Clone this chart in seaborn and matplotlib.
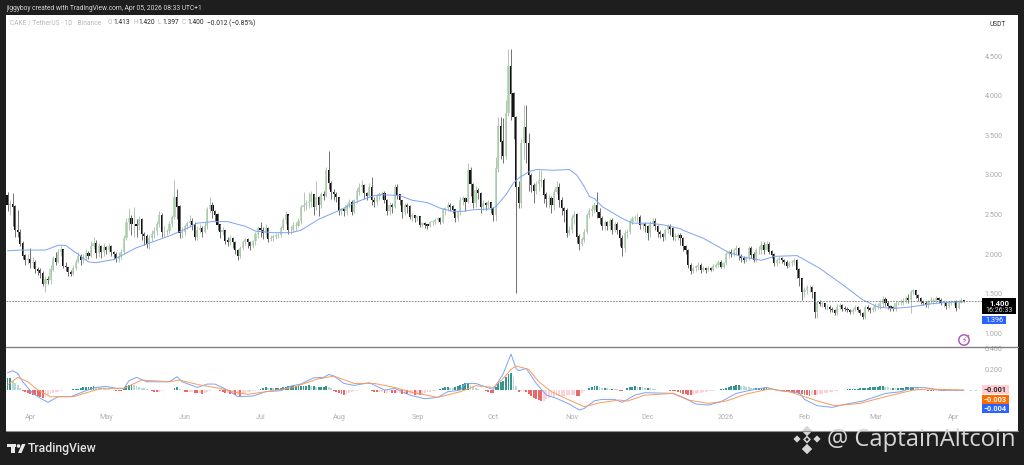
import numpy as np
import pandas as pd
import matplotlib.pyplot as plt
from matplotlib.patches import Rectangle, Circle, Polygon
import seaborn as sns

# daily candles, 23 Mar 2025 -> 5 Apr 2026
first_open = 2.74
close = [
    2.62,2.63,2.60,2.30,2.28,2.13,1.98,1.92,1.93,1.88,
    1.90,1.81,1.79,1.76,1.62,1.68,1.67,1.80,1.94,1.90,
    2.02,2.06,1.85,1.83,1.77,1.75,1.82,1.90,1.97,1.92,
    1.95,2.01,1.98,2.10,2.14,2.01,2.10,2.02,2.09,2.05,
    2.10,2.02,2.00,1.94,1.97,2.02,2.20,2.40,2.45,2.38,
    2.38,2.36,2.44,2.25,2.23,2.13,2.20,2.25,2.29,2.38,
    2.49,2.28,2.28,2.29,2.38,2.47,2.72,2.60,2.26,2.28,
    2.35,2.39,2.42,2.37,2.22,2.30,2.33,2.28,2.35,2.57,
    2.62,2.54,2.50,2.37,2.28,2.30,2.17,2.15,2.20,2.15,
    2.05,1.98,2.07,2.15,2.18,2.15,2.10,2.16,2.25,2.32,
    2.30,2.27,2.33,2.19,2.20,2.22,2.24,2.24,2.33,2.43,
    2.50,2.30,2.30,2.36,2.36,2.42,2.59,2.62,2.64,2.66,
    2.75,2.60,2.72,2.62,2.75,2.73,3.06,2.90,2.78,2.76,
    2.72,2.55,2.56,2.54,2.62,2.66,2.53,2.68,2.79,2.85,
    2.87,2.77,2.73,2.85,2.68,2.66,2.73,2.75,2.77,2.68,
    2.55,2.62,2.60,2.85,2.75,2.68,2.53,2.62,2.60,2.47,
    2.49,2.45,2.48,2.37,2.39,2.37,2.35,2.40,2.41,2.43,
    2.45,2.41,2.56,2.58,2.62,2.60,2.56,2.45,2.53,2.68,
    2.70,2.66,3.06,2.88,2.64,2.81,2.77,2.60,2.64,2.62,
    2.65,2.58,2.49,3.08,3.61,3.42,3.24,3.78,4.37,4.03,
    3.73,2.85,2.64,3.40,3.60,3.40,3.00,2.87,2.80,2.88,
    2.93,2.93,2.75,2.70,2.70,2.62,2.78,2.85,2.68,2.58,
    2.55,2.27,2.30,2.45,2.50,2.22,2.13,2.18,2.28,2.49,
    2.54,2.56,2.62,2.53,2.45,2.35,2.40,2.35,2.43,2.30,
    2.37,2.30,2.20,2.07,2.26,2.28,2.41,2.45,2.47,2.47,
    2.37,2.37,2.35,2.26,2.39,2.41,2.35,2.28,2.25,2.22,
    2.30,2.35,2.32,2.22,2.22,2.24,2.20,2.10,2.05,1.86,
    1.78,1.82,1.84,1.86,1.80,1.82,1.80,1.82,1.80,1.84,
    1.86,1.90,1.84,1.88,2.00,2.02,2.00,2.05,2.07,1.97,
    1.95,1.92,1.95,2.07,1.99,1.93,2.05,2.05,2.11,2.05,
    2.12,2.03,1.99,1.88,1.92,1.95,1.92,1.90,1.85,1.88,
    1.90,1.92,1.80,1.69,1.52,1.54,1.58,1.58,1.52,1.27,
    1.39,1.37,1.37,1.33,1.33,1.30,1.29,1.25,1.33,1.35,
    1.31,1.30,1.29,1.26,1.29,1.32,1.29,1.25,1.20,1.33,
    1.31,1.29,1.31,1.34,1.34,1.37,1.43,1.38,1.34,1.32,
    1.30,1.38,1.38,1.38,1.40,1.44,1.42,1.52,1.54,1.48,
    1.44,1.40,1.38,1.35,1.40,1.41,1.41,1.44,1.42,1.38,
    1.38,1.34,1.38,1.39,1.40,1.32,1.38,1.413,1.40]
high = [
    2.78,2.68,2.77,2.62,2.56,2.32,2.16,2.00,2.00,2.07,
    1.96,1.92,1.84,1.82,1.79,1.72,1.72,1.86,1.97,2.02,
    2.06,2.10,2.06,1.90,1.84,1.80,1.86,1.94,2.02,2.00,
    2.00,2.06,2.04,2.16,2.22,2.18,2.14,2.12,2.14,2.10,
    2.14,2.12,2.04,2.02,2.02,2.06,2.24,2.46,2.58,2.50,
    2.60,2.44,2.48,2.46,2.28,2.25,2.24,2.30,2.34,2.42,
    2.54,2.52,2.36,2.32,2.42,2.50,2.94,2.82,2.62,2.34,
    2.38,2.42,2.50,2.46,2.40,2.36,2.38,2.36,2.40,2.60,
    2.72,2.66,2.56,2.52,2.38,2.34,2.30,2.22,2.24,2.22,
    2.16,2.06,2.10,2.18,2.20,2.20,2.16,2.18,2.28,2.36,
    2.40,2.34,2.38,2.34,2.24,2.25,2.27,2.27,2.36,2.46,
    2.54,2.50,2.36,2.40,2.40,2.46,2.62,2.78,2.68,2.78,
    2.80,2.76,2.93,2.74,2.78,2.80,3.10,3.30,2.92,2.82,
    2.78,2.72,2.58,2.58,2.64,2.70,2.68,2.70,2.84,2.90,
    2.94,2.88,2.78,2.90,2.98,2.72,2.76,2.78,2.80,2.80,
    2.70,2.66,2.64,2.88,2.88,2.76,2.68,2.65,2.64,2.62,
    2.52,2.50,2.50,2.48,2.41,2.40,2.38,2.42,2.43,2.45,
    2.47,2.47,2.58,2.60,2.66,2.64,2.62,2.57,2.55,2.72,
    2.74,2.72,3.15,3.10,2.90,2.86,2.84,2.78,2.68,2.66,
    2.68,2.66,2.60,3.23,3.74,3.74,3.72,3.95,4.60,4.60,
    4.05,3.75,2.92,3.45,3.89,3.89,3.53,3.02,2.90,2.93,
    3.06,3.06,2.96,2.78,2.76,2.74,2.82,2.92,2.90,2.72,
    2.60,2.58,2.36,2.50,2.55,2.52,2.25,2.22,2.32,2.52,
    2.58,2.62,2.66,2.79,2.58,2.48,2.43,2.42,2.46,2.45,
    2.40,2.40,2.32,2.24,2.30,2.32,2.44,2.48,2.50,2.52,
    2.50,2.41,2.40,2.37,2.42,2.45,2.45,2.37,2.30,2.27,
    2.33,2.38,2.38,2.34,2.26,2.27,2.27,2.22,2.12,2.06,
    1.88,1.85,1.86,1.90,1.88,1.85,1.84,1.85,1.84,1.87,
    1.89,1.92,1.92,1.90,2.02,2.05,2.06,2.08,2.11,2.09,
    2.00,1.98,1.98,2.10,2.10,2.02,2.08,2.10,2.17,2.15,
    2.17,2.15,2.05,2.01,1.95,1.98,1.96,1.94,1.92,1.91,
    1.92,1.95,1.94,1.82,1.70,1.58,1.61,1.61,1.60,1.52,
    1.40,1.42,1.40,1.38,1.37,1.35,1.33,1.31,1.37,1.38,
    1.37,1.34,1.33,1.31,1.32,1.36,1.34,1.31,1.27,1.36,
    1.36,1.33,1.34,1.38,1.38,1.42,1.47,1.46,1.40,1.36,
    1.34,1.41,1.41,1.43,1.44,1.47,1.49,1.55,1.56,1.55,
    1.50,1.45,1.42,1.40,1.42,1.45,1.44,1.47,1.46,1.44,
    1.42,1.40,1.41,1.42,1.42,1.42,1.42,1.44,1.42]
low = [
    2.55,2.50,2.35,2.22,2.22,2.10,1.94,1.86,1.87,1.82,
    1.82,1.76,1.74,1.70,1.60,1.52,1.62,1.62,1.78,1.86,
    1.88,1.98,1.82,1.78,1.72,1.72,1.74,1.80,1.88,1.86,
    1.88,1.93,1.94,1.96,2.06,1.95,1.96,1.95,1.98,2.00,
    2.02,1.98,1.94,1.90,1.90,1.94,2.00,2.18,2.30,2.24,
    2.22,2.22,2.30,2.18,2.12,2.08,2.06,2.16,2.20,2.24,
    2.34,2.22,2.22,2.24,2.26,2.34,2.44,2.44,2.20,2.20,
    2.24,2.32,2.34,2.30,2.18,2.18,2.26,2.22,2.26,2.32,
    2.52,2.46,2.42,2.30,2.20,2.24,2.13,2.10,2.12,2.08,
    2.00,1.93,1.95,2.05,2.12,2.08,2.05,2.08,2.12,2.20,
    2.22,2.19,2.22,2.15,2.16,2.17,2.19,2.20,2.22,2.30,
    2.38,2.25,2.25,2.28,2.30,2.34,2.38,2.55,2.56,2.58,
    2.60,2.50,2.56,2.48,2.58,2.68,2.72,2.82,2.70,2.68,
    2.66,2.50,2.50,2.48,2.50,2.58,2.50,2.52,2.64,2.75,
    2.78,2.70,2.68,2.72,2.62,2.60,2.62,2.68,2.70,2.64,
    2.50,2.50,2.52,2.58,2.70,2.62,2.46,2.50,2.52,2.44,
    2.42,2.40,2.42,2.34,2.34,2.33,2.32,2.34,2.37,2.38,
    2.40,2.38,2.39,2.50,2.54,2.55,2.52,2.40,2.42,2.50,
    2.62,2.55,2.64,2.74,2.58,2.60,2.70,2.52,2.56,2.56,
    2.58,2.52,2.42,2.42,3.04,3.20,3.15,3.20,3.75,3.70,
    3.45,1.51,2.58,2.58,3.20,3.15,2.80,2.78,2.64,2.76,
    2.80,2.85,2.65,2.60,2.58,2.52,2.56,2.76,2.60,2.50,
    2.40,2.22,2.24,2.26,2.38,2.14,2.05,2.10,2.15,2.25,
    2.46,2.48,2.52,2.45,2.38,2.30,2.30,2.30,2.30,2.25,
    2.28,2.25,2.10,1.97,2.02,2.20,2.25,2.38,2.42,2.40,
    2.32,2.30,2.28,2.18,2.22,2.36,2.30,2.22,2.20,2.16,
    2.18,2.26,2.24,2.18,2.16,2.18,2.12,2.04,2.00,1.82,
    1.75,1.76,1.78,1.80,1.76,1.78,1.76,1.78,1.78,1.79,
    1.82,1.84,1.82,1.82,1.86,1.95,1.96,1.98,2.00,1.93,
    1.90,1.88,1.90,1.92,1.95,1.90,1.90,2.00,2.00,2.00,
    2.05,2.00,1.95,1.85,1.85,1.89,1.88,1.86,1.82,1.83,
    1.85,1.86,1.70,1.60,1.42,1.46,1.50,1.52,1.44,1.19,
    1.19,1.34,1.33,1.30,1.29,1.27,1.26,1.23,1.23,1.30,
    1.28,1.28,1.26,1.24,1.24,1.28,1.26,1.23,1.18,1.18,
    1.28,1.25,1.27,1.28,1.30,1.30,1.33,1.34,1.31,1.28,
    1.28,1.28,1.35,1.35,1.36,1.38,1.38,1.25,1.48,1.44,
    1.40,1.37,1.35,1.33,1.32,1.38,1.37,1.38,1.38,1.35,
    1.33,1.30,1.32,1.35,1.36,1.28,1.30,1.38,1.397]

# moving average, read at the bends
ma_day = [0,5,15,20,23,29,32,35,42,51,64,70,75,81,87,94,98,105,112,116,123,131,
          138,145,148,155,160,166,171,176,180,184,191,193,197,200,202,206,209,216,222,225,228,230,232,235,243,247,254,259,266,
          267,275,285,291,298,303,312,321,331,338,344,350,357,365,372,378]
ma_val = [2.04,2.05,2.05,2.11,2.11,1.97,1.90,1.89,1.93,2.08,2.23,2.31,2.39,2.41,2.41,2.35,2.29,2.27,2.27,2.30,2.44,2.55,
          2.66,2.74,2.75,2.74,2.68,2.65,2.58,2.54,2.54,2.56,2.57,2.60,2.75,2.90,2.96,3.04,3.07,3.06,3.07,3.00,2.85,2.73,2.70,2.60,2.45,2.39,2.39,2.37,2.32,
          2.30,2.20,2.02,1.96,1.92,1.97,1.98,1.82,1.59,1.42,1.33,1.31,1.33,1.37,1.39,1.396]

# macd pane
macd_day = [0,2,4,6,10,13,16,20,25,31,
            35,39,43,46,48,51,55,60,64,67,
            69,75,79,82,87,91,97,102,108,112,
            116,121,125,127,129,133,137,143,149,153,
            159,165,170,174,179,181,185,192,194,196,
            199,201,202,205,209,213,217,222,226,228,
            232,235,240,243,248,252,263,268,272,277,
            282,288,294,300,305,313,315,320,326,331,
            338,347,353,358,363,368,378]
macd_val = [.165,.184,.159,.079,-.032,-.079,-.117,-.063,-.063,-.006,
            .025,.035,.016,.016,.089,.121,.079,.079,.079,.127,
            .079,.025,.057,.057,0,-.063,-.057,-.016,-.006,.038,
            .057,.117,.121,.149,.133,.063,.044,.070,0,.016,
            -.048,-.083,-.070,-.016,0,.063,.063,.006,.079,.159,
            .343,.206,.184,.206,.063,-.048,-.079,-.133,-.190,-.175,
            -.102,-.089,-.089,-.117,-.048,-.025,-.032,-.079,-.133,-.143,
            -.111,-.032,0,.025,-.006,-.025,-.089,-.149,-.165,-.136,
            -.105,-.032,-.016,.025,.022,0,-.003]
signal_day = [0,4,8,12,17,26,37,46,53,59,
              64,68,76,84,89,95,102,113,122,129,
              137,145,153,160,170,179,185,192,196,199,
              201,206,210,215,222,228,234,242,245,252,
              263,269,277,284,292,301,309,315,321,327,
              337,347,358,364,378]
signal_val = [.048,.121,.079,0,-.063,-.063,.016,.016,.095,.086,
              .079,.095,.048,.016,-.016,-.041,-.016,.025,.102,.133,
              .063,.063,.025,-.022,-.070,-.016,.041,.025,.111,.197,
              .229,.197,.079,-.016,-.095,-.159,-.121,-.095,-.105,-.048,
              -.032,-.095,-.127,-.105,-.038,.010,-.016,-.063,-.111,-.149,
              -.127,-.063,0,.010,0]
hist = [
    .11,.11,.09,.07,.05,.02,-.005,-.02,-.03,-.04,
    -.045,-.05,-.06,-.07,-.08,-.065,-.05,-.04,-.03,-.02,
    -.015,-.005,.002,.005,.003,.004,.006,.01,.012,.02,
    .025,.03,.03,.032,.035,.03,.025,.02,.015,.01,
    .006,.003,-.003,-.005,-.008,-.01,.02,.035,.05,.052,
    .045,.035,.03,.02,.015,.01,.005,-.005,-.015,-.02,
    -.015,-.005,.002,.005,.003,.002,.02,.03,.01,-.002,
    -.015,-.02,-.02,-.02,-.025,-.03,-.03,-.035,-.03,-.015,
    -.005,-.003,.003,.002,-.01,-.02,-.03,-.03,-.04,-.04,
    -.05,-.05,-.055,-.03,-.025,-.02,-.015,-.01,-.005,.005,
    .01,.02,.025,.02,.02,.015,.015,.015,.02,.03,
    .03,.035,.035,.035,.04,.04,.04,.04,.04,.045,
    .035,.035,.03,.03,.03,.03,.035,.03,.02,-.01,
    -.02,-.03,-.04,-.05,-.05,-.03,-.02,-.01,-.005,.002,
    .003,.002,.003,.002,-.01,-.015,-.02,-.02,-.02,-.03,
    -.025,-.02,-.025,-.03,-.03,-.03,-.035,-.035,-.04,-.04,
    -.04,-.045,-.045,-.05,-.05,-.03,-.02,-.015,-.01,-.005,
    -.003,.01,.02,.03,.03,.02,.015,.03,.04,.05,
    .06,.065,.07,.05,.03,.02,.01,.005,.003,-.01,
    -.02,-.025,-.03,.03,.07,.08,.09,.12,.15,.16,
    .12,.04,-.02,-.01,-.005,-.02,-.04,-.06,-.08,-.09,
    -.095,-.1,-.1,-.09,-.08,-.07,-.07,-.06,-.06,-.06,
    -.055,-.05,-.05,-.05,-.05,-.055,-.06,-.03,-.01,-.003,
    .015,.03,.035,.035,.03,.02,.02,.015,.01,.012,
    .008,.006,-.005,-.012,.005,.015,.025,.03,.035,.03,
    .03,.025,.02,.02,.015,.012,.008,.005,.004,.003,
    .002,-.002,-.005,-.008,-.012,-.02,-.03,-.035,-.04,-.045,
    -.05,-.045,-.035,-.03,-.025,-.02,-.015,-.012,-.01,-.005,
    .003,.005,.008,.012,.02,.025,.035,.04,.045,.05,
    .04,.035,.03,.025,.02,.015,.015,.02,.02,.02,
    .02,.015,.005,.003,.002,-.005,-.01,-.012,-.015,-.018,
    -.02,-.025,-.03,-.035,-.04,-.045,-.05,-.055,-.045,-.05,
    -.045,-.04,-.035,-.03,-.025,-.02,-.015,-.01,-.005,-.002,
    .002,.005,.006,.008,.01,.012,.012,.015,.015,.02,
    .02,.025,.025,.03,.03,.035,.035,.03,.025,.02,
    .02,.015,.015,.015,.02,.025,.025,.03,.03,.02,
    .015,.01,.008,-.003,-.006,-.008,-.01,-.01,-.008,-.01,
    -.012,-.012,-.01,-.008,-.008,-.01,-.006,-.005,-.001]

price_ticks = [1.0,1.5,2.0,2.5,3.0,3.5,4.0,4.5]
macd_ticks = [0.2,0.4]
month_days = [9,39,70,100,131,162,192,223,253,284,315,343,374]
month_labels = ['Apr','May','Jun','Jul','Aug','Sep','Oct','Nov','Dec','2026','Feb','Mar','Apr']

sns.set_theme(style='white')
plt.rcParams['font.family'] = ['Roboto','DejaVu Sans']

W, H = 1024, 465
dark = '#1e1e1e'
fig = plt.figure(figsize=(W/100,H/100),dpi=100,facecolor=dark)
ax = fig.add_axes([6/W,(H-347)/H,1012/W,332/H])
ax2 = fig.add_axes([6/W,(H-431)/H,1012/W,84/H])

days = np.arange(len(close))
close_a = np.array(close)
open_a = np.r_[first_open,close_a[:-1]]
up = close_a >= open_a

# candles
ax.vlines(days[up],np.array(low)[up],np.array(high)[up],color='#b4c4b4',lw=0.7)
ax.vlines(days[~up],np.array(low)[~up],np.array(high)[~up],color='#707070',lw=0.7)
ax.bar(days,np.abs(close_a-open_a)+0.004,bottom=np.minimum(open_a,close_a),width=0.85,color=np.where(up,'#b4e0b4','#111111'),linewidth=0)
sns.lineplot(x=ma_day,y=ma_val,color='#7ba3f7',lw=0.7,ax=ax,errorbar=None)
ax.axhline(close[-1],xmax=(982-6)/1012,color='#777777',lw=0.6,ls=(0,(2,1.5)))
ax.set_xlim(-0.6,399.4)
ax.set_ylim(0.823,5.025)
ax.set_xticks([])
ax.set_yticks(price_ticks)
ax.set_yticklabels(['%.3f' % t for t in price_ticks])
ax.yaxis.tick_right()
ax.tick_params(axis='y',length=0,pad=-24,labelsize=5.2,labelcolor='#a8a8a8')

# macd histogram coloured by sign and direction
h = np.array(hist)
prev = np.r_[h[0],h[:-1]]
names = np.where(h>=0,np.where(h>=prev,'grow_up','fall_up'),np.where(h<prev,'grow_dn','fall_dn'))
hist_df = pd.DataFrame({'day':days,'hist':h,'kind':names})
sns.barplot(data=hist_df,x='day',y='hist',hue='kind',native_scale=True,dodge=False,width=0.75,legend=False,linewidth=0,
            palette={'grow_up':'#26a69a','fall_up':'#b2dfdb','grow_dn':'#ff5252','fall_dn':'#ffcdd2'},ax=ax2)
sns.lineplot(x=macd_day,y=macd_val,color='#7ba3f7',lw=0.7,ax=ax2,errorbar=None)
sns.lineplot(x=signal_day,y=signal_val,color='#fb9a5b',lw=0.7,ax=ax2,errorbar=None)
ax2.set_xlim(-0.6,399.4)
ax2.set_ylim(-0.39,0.41)
ax2.set_xticks(month_days)
ax2.set_xticklabels(month_labels)
ax2.set_xlabel('')
ax2.set_ylabel('')
ax2.set_yticks(macd_ticks)
ax2.set_yticklabels(['%.3f' % t for t in macd_ticks])
ax2.yaxis.tick_right()
ax2.tick_params(axis='y',length=0,pad=-24,labelsize=5.2,labelcolor='#a8a8a8')
ax2.tick_params(axis='x',length=0,pad=-12,labelsize=5.2,labelcolor='#b0b0b0')
for a in (ax,ax2):
    for s in a.spines.values():
        s.set_visible(False)

# overlay in pixel coordinates for the chrome
ov = fig.add_axes([0,0,1,1],zorder=5)
ov.set_xlim(0,W)
ov.set_ylim(H,0)
ov.axis('off')
ov.patch.set_alpha(0)

ov.plot([6,1018],[347,347],color='#808080',lw=1)
ov.plot([6,1018],[431,431],color='#909090',lw=0.8)

def label(x,y,s,color,size=5.2,**kw):
    ov.text(x,y,s,color=color,fontsize=size,va='center',**kw)

label(6,8,'jiggyboy created with TradingView.com, Apr 05, 2026 08:33 UTC+1','#d8d8d8',size=4.8)
label(10,23,'CAKE / TetherUS · 1D · Binance','#b8b8b8',size=4.75)
for x,s in [(108,'O'),(133,'H'),(158,'L'),(182,'C')]:
    label(x,23,s,'#b8b8b8',size=4.75)
for x,s in [(113,'1.413'),(138,'1.420'),(162,'1.397'),(187,'1.400'),(207,'−0.012 (−0.85%)')]:
    label(x,23,s,'#222222',size=4.75)
label(989,24,'USDT','#333333',size=4.8)

# last price tags
ov.add_patch(Rectangle((982,298),34,16,color='#000000',lw=0))
label(999,303,'1.400','#ffffff',size=5.6,ha='center',fontweight='bold')
label(999,310,'16:26:33','#d8d8d8',size=5,ha='center')
ov.add_patch(Rectangle((982,316),24,8,color='#2962ff',lw=0))
label(994,320,'1.396','#ffffff',size=5.2,ha='center')
for y0,col,s,tc in [(385,'#ffcdd2','−0.001','#222222'),(395,'#ff6d00','−0.003','#ffffff'),(404,'#2962ff','−0.004','#ffffff')]:
    ov.add_patch(Rectangle((982,y0),27,9,color=col,lw=0))
    label(995.5,y0+4.6,s,tc,size=5.2,ha='center',fontweight='bold')
ov.plot([969,980],[390,390],color='#c8c8c8',lw=0.6,ls=(0,(3,3)))

# replay badge
ov.add_patch(Circle((964,340),5.2,fill=False,ec='#a64fc0',lw=1))
ov.text(964,340,'⚡',color='#a64fc0',fontsize=5.5,ha='center',va='center',family='DejaVu Sans')
ov.add_patch(Circle((968,336),1.3,color='#f0605a',lw=0))

# tradingview logo
ov.add_patch(Rectangle((7,444),9,3,color='#e8e8e8',lw=0))
ov.add_patch(Rectangle((11,444),4,9,color='#e8e8e8',lw=0))
ov.add_patch(Circle((18.5,446),1.8,color='#e8e8e8',lw=0))
ov.add_patch(Polygon([(18,453),(22,444),(25.5,444),(21.5,453)],color='#e8e8e8',lw=0))
label(27.5,448.5,'TradingView','#e4e4e4',size=8.8,fontweight='medium')

# watermark
wm = '#d6d6d6'
def diamond(cx,cy,r,col=wm):
    ov.add_patch(Polygon([(cx,cy-r),(cx+r,cy),(cx,cy+r),(cx-r,cy)],color=col,lw=0))
for cx,cy,r in [(807,431,5.2),(797,439,3.6),(817,439,3.6),(807,449,5.2)]:
    diamond(cx,cy,r)
diamond(807,439.5,4,wm)
diamond(807,439.5,1.8,dark)
label(827,439.5,'@ CaptainAltcoin',wm,size=17.1,family='Open Sans')

fig.savefig('out.png',dpi=100,facecolor=dark)
